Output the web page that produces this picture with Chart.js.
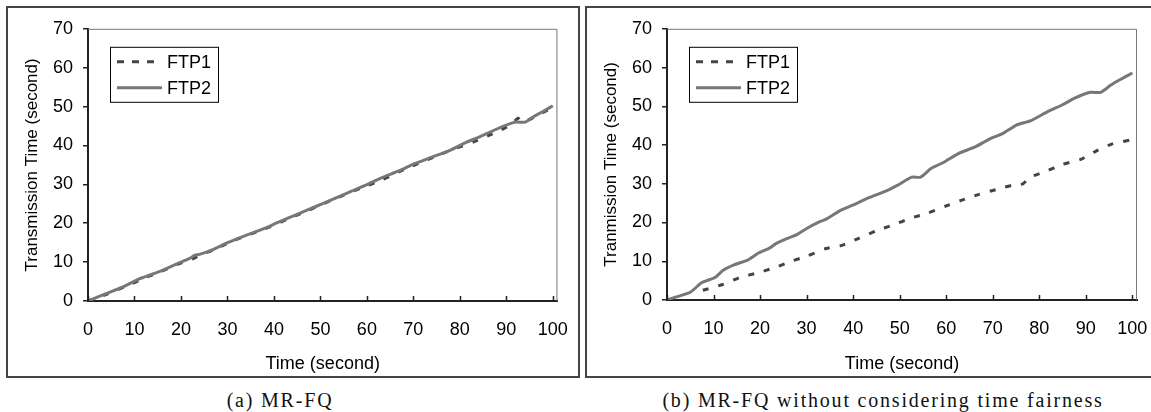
<!DOCTYPE html>
<html>
<head>
<meta charset="utf-8">
<script src="https://cdn.jsdelivr.net/npm/chart.js@4"></script>
<style>
body { margin: 0; background: #fff; width: 1151px; height: 412px; overflow: hidden; position: relative; }
.panel { position: absolute; top: 6px; height: 368px; border: 2px solid #444; }
#panelA { left: 6px; width: 570px; }
#panelB { left: 585px; width: 620px; }
canvas { position: absolute; }
#chartA { left: 8px; top: 8px; }
#chartB { left: 587px; top: 8px; }
.caption { position: absolute; top: 390px; font-family: "Liberation Serif", "Times New Roman", serif; font-size: 20px; letter-spacing: 1.8px; line-height: 20px; white-space: nowrap; color: #111; transform: translateX(-50%); }
</style>
</head>
<body>
<div class="panel" id="panelA"></div>
<div class="panel" id="panelB"></div>
<canvas id="chartA" width="570" height="368"></canvas>
<canvas id="chartB" width="600" height="368"></canvas>
<div class="caption" style="left:280px">(a) MR-FQ</div>
<div class="caption" style="left:883px">(b) MR-FQ without considering time fairness</div>
<script>
const xTicks = [0, 10, 20, 30, 40, 50, 60, 70, 80, 90, 100];
const yTicks = [0, 10, 20, 30, 40, 50, 60, 70];
const seriesNames = ["FTP1", "FTP2"];

// (a) MR-FQ
const timeA1 = [0, 4, 8, 11, 12, 15, 19, 23, 24, 27, 31, 35, 39, 43, 47, 51, 55, 59, 63, 67, 71, 75, 79, 83, 87, 91, 92.5, 93.5, 96, 100];
const ftp1A = [0, 1.7, 3.7, 5.3, 5.9, 7.2, 9.3, 11.1, 11.8, 13.1, 15.4, 17.2, 19.0, 21.1, 23.1, 25.2, 27.2, 29.2, 31.0, 33.3, 35.3, 37.3, 39.2, 40.9, 43.0, 45.3, 47.0, 46.0, 47.3, 49.8];
const timeA2 = [0, 2, 5, 8, 11, 12, 15, 19, 22, 23, 24, 27, 30, 34, 38, 41, 45, 49, 52, 56, 60, 63, 67, 70, 74, 78, 81, 84, 87, 89, 92, 94, 96, 98, 100];
const ftp2A = [0, 1, 2.4, 3.9, 5.7, 6.1, 7.4, 9.5, 11, 11.8, 12, 13.3, 15, 16.9, 18.7, 20.3, 22.3, 24.3, 25.8, 27.9, 29.9, 31.6, 33.5, 35.2, 37.0, 38.8, 40.6, 42.1, 43.7, 44.8, 46.0, 46.0, 47.5, 48.8, 50.2];

// (b) MR-FQ without considering time fairness
const timeB1 = [7.7, 12, 15.6, 19.5, 23, 26.7, 30, 34.2, 37.6, 41.2, 45, 48.7, 52.3, 56, 59.8, 63.2, 66.9, 70.7, 74.4, 76.5, 78, 81.4, 85, 88.9, 92.3, 95.7, 99.6];
const ftp1B = [2.5, 4, 5.8, 7, 8.3, 10, 11.3, 13.3, 14.1, 15.9, 17.9, 19.4, 21.1, 22.4, 24.2, 25.7, 27.2, 28.5, 29.7, 30, 31.7, 33.2, 35, 36.3, 38.5, 40.3, 41.3];
const timeB2 = [0, 2, 5, 7.5, 10.3, 12, 14.5, 17.3, 19.5, 22, 23.5, 25.6, 27.8, 30.2, 32.3, 34.4, 37.4, 39.8, 43.4, 47, 49.5, 52.6, 54.5, 56.8, 59.4, 62.6, 66.2, 69.4, 72.2, 75, 78.2, 81.8, 85, 87.6, 91, 93.2, 95.3, 97.4, 100];
const ftp2B = [0, 0.8, 2.0, 4.5, 5.8, 7.6, 9.1, 10.3, 12, 13.4, 14.6, 15.8, 16.8, 18.6, 19.9, 21, 23.2, 24.4, 26.4, 28.1, 29.6, 31.7, 31.7, 34, 35.5, 37.8, 39.5, 41.6, 43, 45.1, 46.3, 48.6, 50.4, 52.1, 53.6, 53.6, 55.4, 56.9, 58.6];

const FONT = '"Liberation Sans", Arial, sans-serif';

function toPoints(xs, ys) {
	return xs.map((x, i) => ({x, y: ys[i]}));
}

// plot frame, inward x ticks and the boxed legend
const decor = {
	id: "decor",
	afterDraw(chart) {
		const {ctx, chartArea: a} = chart;
		ctx.save();
		ctx.strokeStyle = "#777";
		ctx.lineWidth = 1;
		ctx.beginPath();
		ctx.moveTo(a.left, a.top + 0.5);
		ctx.lineTo(a.right - 0.5, a.top + 0.5);
		ctx.lineTo(a.right - 0.5, a.bottom);
		ctx.stroke();

		const xs = chart.scales.x;
		ctx.strokeStyle = "#222";
		ctx.lineWidth = 1.5;
		ctx.beginPath();
		xs.ticks.forEach(t => {
			const px = Math.round(xs.getPixelForValue(t.value)) + 0.5;
			ctx.moveTo(px, a.bottom);
			ctx.lineTo(px, a.bottom - 5);
		});
		ctx.stroke();

		const lx = a.left + 22, ly = a.top + 18;
		ctx.strokeStyle = "#000";
		ctx.lineWidth = 1;
		ctx.strokeRect(lx + 0.5, ly + 0.5, 108, 55);
		chart.data.datasets.forEach((ds, i) => {
			const y = ly + 15 + i * 26;
			ctx.strokeStyle = ds.borderColor;
			ctx.lineWidth = ds.borderWidth;
			ctx.setLineDash(ds.borderDash ? [7, 8] : []);
			ctx.beginPath();
			ctx.moveTo(lx + 7, y);
			ctx.lineTo(lx + 52, y);
			ctx.stroke();
			ctx.setLineDash([]);
			ctx.fillStyle = "#000";
			ctx.font = "18px " + FONT;
			ctx.textBaseline = "middle";
			ctx.fillText(ds.label, lx + 57, y + 1);
		});
		ctx.restore();
	}
};

function draw_chart(id, t1, v1, t2, v2, yLabel, pad, yWidth, xHeight) {
	const context = document.getElementById(id).getContext("2d");
	return new Chart(context, {
		type: "line",
		data: {
			datasets: [{
				label: seriesNames[0],
				data: toPoints(t1, v1),
				borderColor: "#444",
				borderWidth: 3,
				borderDash: [6, 10],
				pointRadius: 0,
				tension: 0.2,
				order: 1
			}, {
				label: seriesNames[1],
				data: toPoints(t2, v2),
				borderColor: "#777",
				borderWidth: 3,
				pointRadius: 0,
				tension: 0.2,
				order: 0
			}]
		},
		options: {
			responsive: false,
			animation: false,
			events: [],
			layout: {padding: pad},
			plugins: {legend: {display: false}, tooltip: {enabled: false}},
			scales: {
				x: {
					type: "linear",
					min: 0,
					max: 101,
					afterBuildTicks: s => { s.ticks = xTicks.map(v => ({value: v})); },
					afterFit: s => { s.height = xHeight; },
					grid: {display: false},
					border: {color: "#222", width: 2},
					ticks: {color: "#000", font: {family: FONT, size: 18}, padding: 10, maxRotation: 0},
					title: {display: true, text: "Time (second)", color: "#000", font: {family: FONT, size: 18}, padding: {top: 0, bottom: 1}}
				},
				y: {
					min: 0,
					max: 70,
					afterBuildTicks: s => { s.ticks = yTicks.map(v => ({value: v})); },
					afterFit: s => { s.width = yWidth; },
					grid: {drawOnChartArea: false, drawTicks: true, tickLength: 5, color: "#222", lineWidth: 1.5},
					border: {color: "#222", width: 2},
					ticks: {color: "#000", font: {family: FONT, size: 18}, padding: 10},
					title: {display: true, text: yLabel, color: "#000", font: {family: FONT, size: 17}, padding: {top: 14, bottom: 0}}
				}
			}
		},
		plugins: [decor]
	});
}

draw_chart("chartA", timeA1, ftp1A, timeA2, ftp2A, "Transmission Time (second)", {top: 18, right: 19, bottom: 0, left: 0}, 80, 75);
draw_chart("chartB", timeB1, ftp1B, timeB2, ftp2B, "Tranmission Time (second)", {top: 14, right: 50, bottom: 0, left: 0}, 80, 76);
</script>
</body>
</html>
